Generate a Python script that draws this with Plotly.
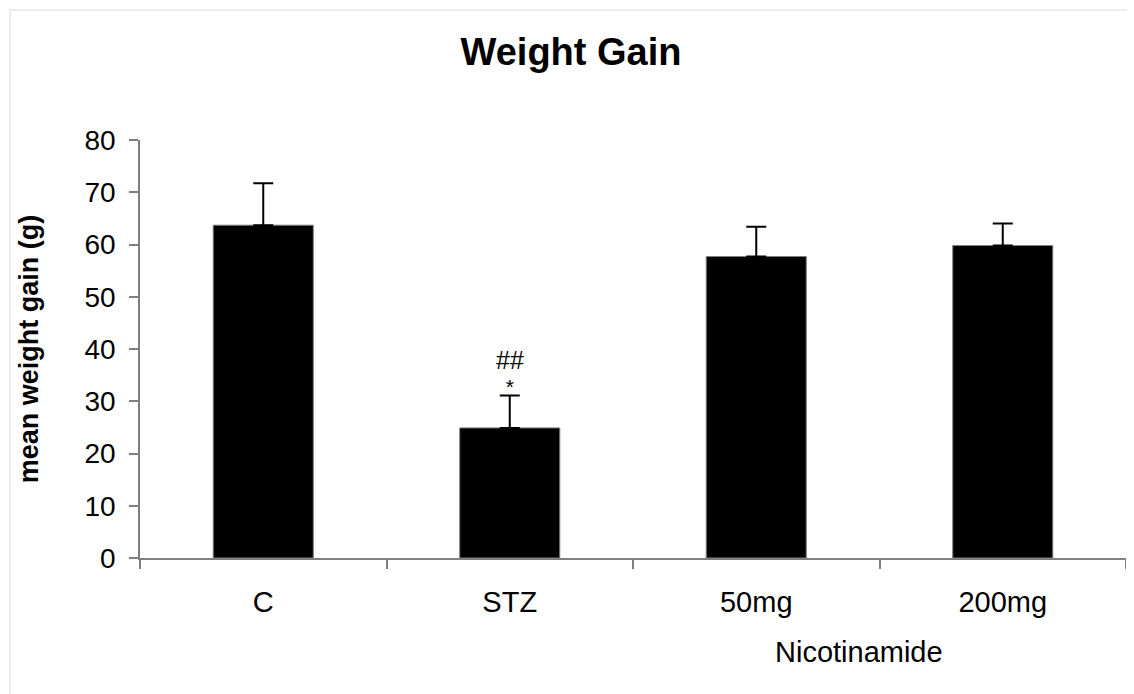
import plotly.graph_objects as go

categories = ["C", "STZ", "50mg", "200mg"]
mean_gain = [63.7, 24.9, 57.7, 59.8]
sem = [8.0, 6.2, 5.7, 4.2]
y_ticks = [0, 10, 20, 30, 40, 50, 60, 70, 80]
stz_marks = "<span style='font-size:25px'>##</span><br><span style='font-size:21px'>*</span>"

FONT = "Liberation Sans, Arial, sans-serif"

fig = go.Figure()
fig.add_trace(go.Bar(
    x=categories, y=mean_gain,
    marker=dict(color="black", line=dict(color="#808080", width=1)),
    width=0.406,
    error_y=dict(type="data", symmetric=False, array=sem, arrayminus=[0]*len(sem),
                 color="black", thickness=2, width=10),
))

fig.add_annotation(x="STZ", y=mean_gain[1] + sem[1], xref="x", yref="y",
                   text=stz_marks, showarrow=False, yshift=24,
                   xanchor="center", yanchor="middle",
                   font=dict(family=FONT, size=19, color="black"))
fig.add_annotation(x=0.729, y=-0.225, xref="paper", yref="paper",
                   xanchor="center", yanchor="middle",
                   text="Nicotinamide", showarrow=False,
                   font=dict(family=FONT, size=29, color="black"))

# faint outer frame
fig.add_shape(type="rect", xref="paper", yref="paper",
              x0=-0.1318, x1=1.03, y0=-0.4, y1=1.311,
              line=dict(color="#e6e6e6", width=1.5), layer="below")

fig.update_layout(
    width=1126, height=686,
    margin=dict(l=132, r=8, t=132, b=136),
    paper_bgcolor="white", plot_bgcolor="white",
    showlegend=False,
    title=dict(text="<b>Weight Gain</b>", x=0.5, xanchor="center",
               y=1 - 44 / 686, yanchor="middle",
               font=dict(family=FONT, size=38, color="black")),
    font=dict(family=FONT, color="black"),
)
fig.update_xaxes(
    showline=True, linecolor="#808080", linewidth=1.5,
    ticks="outside", tickson="boundaries", ticklen=9, tickcolor="#808080", tickwidth=1.5,
    tickfont=dict(family=FONT, size=29, color="black"),
    ticklabelstandoff=17,
    showgrid=False, zeroline=False,
)
fig.update_yaxes(
    range=[0, 80], tickvals=y_ticks,
    showline=True, linecolor="#808080", linewidth=1.5,
    ticks="outside", ticklen=9, tickcolor="#808080", tickwidth=1.5,
    tickfont=dict(family=FONT, size=28, color="black"),
    ticklabelstandoff=8,
    showgrid=False, zeroline=False,
    title=dict(text="<b>mean weight gain (g)</b>", standoff=38,
               font=dict(family=FONT, size=27, color="black")),
)

fig.write_html("out.html")
